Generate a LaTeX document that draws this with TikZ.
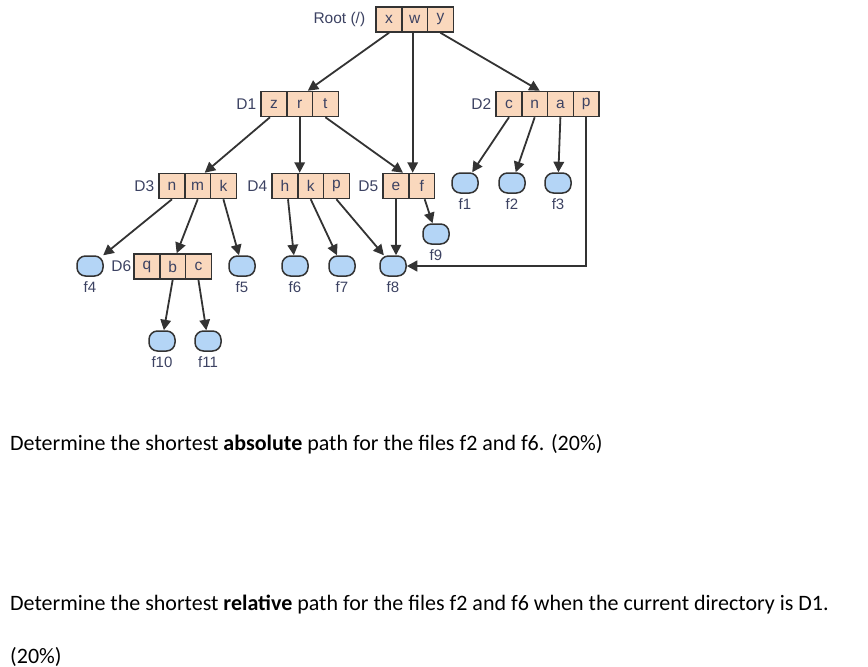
\documentclass[tikz,border=0pt]{standalone}
\usepackage{fontspec}
\setmainfont{Liberation Sans}
\newfontfamily\calib{Carlito}
\usetikzlibrary{arrows.meta,calc}
\definecolor{peach}{HTML}{FAD8BD}
\definecolor{fblue}{HTML}{B4D5F6}
\definecolor{dk}{HTML}{333333}
\definecolor{txt}{HTML}{3C4262}
\tikzset{
  cell/.style={draw=dk,fill=peach,line width=1.5pt,minimum width=25.7pt,minimum height=25pt,inner sep=0pt,font=\fontsize{15.5}{15.5}\selectfont,text=txt},
  file/.style={draw=dk,fill=fblue,line width=1.5pt,minimum width=26pt,minimum height=20pt,rounded corners=8.5pt,inner sep=0pt},
  dlab/.style={inner sep=0pt,anchor=east,font=\fontsize{15.5}{15.5}\selectfont,text=txt},
  flab/.style={inner sep=0pt,font=\fontsize{15}{15}\selectfont,text=txt},
  conn/.style={draw=dk,line width=1.8pt,-{Triangle[length=10.5pt,width=10.5pt]}},
  qtext/.style={inner sep=0pt,anchor=base west,font=\calib\fontsize{22}{22}\selectfont}
}
\begin{document}
\begin{tikzpicture}[x=1pt,y=-1pt]
\useasboundingbox (0,0) rectangle (868,667);
% Root
\node[cell] (rx) at (389,19.5) {x};
\node[cell] (rw) at (414.7,19.5) {w};
\node[cell] (ry) at (440.4,19.5) {y};
\node[dlab] (rlab) at ([xshift=-10pt]rx.west) {Root (/)};
% D1
\node[cell] (d1z) at (274,104) {z};
\node[cell] (d1r) at (299.7,104) {r};
\node[cell] (d1t) at (325.4,104) {t};
\node[dlab] (d1lab) at ([xshift=-4pt]d1z.west) {D1};
% D2
\node[cell] (d2c) at (509,104) {c};
\node[cell] (d2n) at (534.7,104) {n};
\node[cell] (d2a) at (560.4,104) {a};
\node[cell] (d2p) at (586.1,104) {p};
\node[dlab] (d2lab) at ([xshift=-4pt]d2c.west) {D2};
% D3
\node[cell] (d3n) at (172,186) {n};
\node[cell] (d3m) at (197.7,186) {m};
\node[cell] (d3k) at (223.4,186) {k};
\node[dlab] (d3lab) at ([xshift=-4pt]d3n.west) {D3};
% D4
\node[cell] (d4h) at (285,186) {h};
\node[cell] (d4k) at (310.7,186) {k};
\node[cell] (d4p) at (336.4,186) {p};
\node[dlab] (d4lab) at ([xshift=-4pt]d4h.west) {D4};
% D5
\node[cell] (d5e) at (396,186) {e};
\node[cell] (d5f) at (421.7,186) {f};
\node[dlab] (d5lab) at ([xshift=-4pt]d5e.west) {D5};
% D6
\node[cell] (d6q) at (147,266.5) {q};
\node[cell] (d6b) at (172.7,266.5) {b};
\node[cell] (d6c) at (198.4,266.5) {c};
\node[dlab] (d6lab) at ([xshift=-2pt]d6q.west) {D6};
% files
\foreach \n/\x/\y in {f1/465/183,f2/512/183,f3/558/183,f9/436/234,f4/90/266,f5/242/266,f6/295/266,f7/342/266,f8/393/266,f10/162/341,f11/208/341}{
  \node[file] (\n) at (\x,\y) {};
  \node[flab] (\n lab) at (\x,\y+21) {\n};
}
% connectors
\draw[conn] (rx.south) -- ([xshift=8pt]d1r.north);
\draw[conn] ([xshift=-2pt]rw.south) -- ([xshift=-2pt]rw.south |- d5f.north);
\draw[conn] (ry.south) -- ([xshift=5pt]d2n.north);
\draw[conn] ([xshift=-4pt]d1z.south) -- ([xshift=7pt]d3m.north);
\draw[conn] (d1r.south) -- (d1r.south |- d4k.north);
\draw[conn] (d1t.south) -- ([xshift=7pt]d5e.north);
\draw[conn] (d3n.south) -- (f4);
\draw[conn] (d3m.south) -- ([xshift=4pt]d6b.north);
\draw[conn] (d3k.south) -- (f5);
\draw[conn] ([xshift=3pt]d4h.south) -- (f6);
\draw[conn] (d4k.south) -- (f7);
\draw[conn] (d4p.south) -- (f8);
\draw[conn] (d5e.south) -- (d5e.south |- f8.north);
\draw[conn] ([xshift=3pt]d5f.south) -- (f9);
\draw[conn] (d6b.south) -- (f10);
\draw[conn] (d6c.south) -- (f11);
\draw[conn] (d2c.south) -- (f1);
\draw[conn] (d2n.south) -- (f2);
\draw[conn] (d2a.south) -- (f3);
\draw[conn,line width=2.6pt] (d2p.south) |- (f8.east);
% question text
\node[qtext] (q1) at (10,450) {Determine the shortest \textbf{absolute} path for the files f2 and f6. (20\%)};
\node[qtext] (q2) at (10,610) {Determine the shortest \textbf{relative} path for the files f2 and f6 when the current directory is D1.};
\node[qtext] (q3) at (10,663) {(20\%)};
\end{tikzpicture}
\end{document}
